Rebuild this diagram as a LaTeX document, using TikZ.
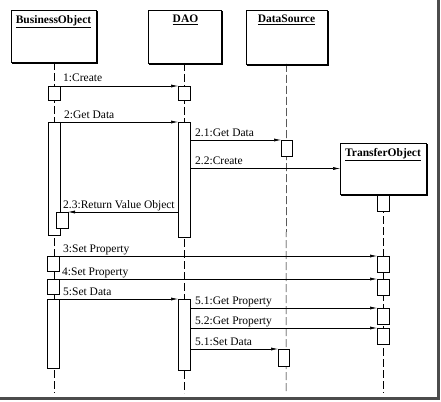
\documentclass[tikz,border=0pt]{standalone}
\usepackage{fontspec}
\setmainfont{Liberation Serif}
\usetikzlibrary{arrows.meta}
\begin{document}
\begin{tikzpicture}[x=1pt,y=-1pt,
  every node/.style={font=\fontsize{11.5}{13}\selectfont},
  objbox/.style={draw,line width=0.5pt,fill=white,inner sep=0pt,outer sep=0pt,anchor=north west},
  hdr/.style={inner sep=0pt,font=\fontsize{11.5}{13}\selectfont\bfseries,anchor=north},
  shadowline/.style={line width=1.8pt,line cap=rect},
  act/.style={draw,line width=0.5pt,fill=white,inner sep=0pt,outer sep=0pt,anchor=north west,minimum width=12pt},
  life/.style={line width=0.5pt,dash pattern=on 8pt off 3pt},
  msg/.style={line width=0.5pt,-{Latex[length=7pt,width=3pt]}},
  lbl/.style={inner sep=0pt,anchor=base west}
]
\useasboundingbox (0,0) rectangle (441,401);

% object boxes
\node[objbox,minimum width=85pt,minimum height=52pt] (bo) at (11,10) {};
\node[objbox,minimum width=73pt,minimum height=53pt] (dao) at (148,10) {};
\node[objbox,minimum width=81pt,minimum height=54pt] (ds) at (246,10) {};
\node[objbox,minimum width=86pt,minimum height=51pt] (to) at (340,143) {};
\foreach \b in {bo,dao,ds,to}{
  \draw[shadowline] ([xshift=1pt,yshift=-2pt]\b.north east) -- ([xshift=1pt,yshift=-1pt]\b.south east) -- ([xshift=2pt,yshift=-1pt]\b.south west);
}
\node[hdr] (boh) at ([yshift=-5pt]bo.north) {\underline{BusinessObject}};
\node[hdr] (daoh) at ([xshift=1pt,yshift=-5pt]dao.north) {\underline{DAO}};
\node[hdr] (dsh) at ([yshift=-5pt]ds.north) {\underline{DataSource}};
\node[hdr] (toh) at ([yshift=-5pt]to.north) {\underline{TransferObject}};

% lifeline ends
\coordinate (boe) at (54,393);
\coordinate (daoe) at (184,393);
\coordinate (dse) at (286,393);
\coordinate (toe) at (383,393);
\draw[life] ([xshift=0.5pt]bo.south) -- (boe);
\draw[life] ([xshift=-0.5pt]dao.south) -- (daoe);
\draw[life] (ds.south) -- (dse);
\draw[life] (to.south) -- (toe);

% activations
\node[act,minimum height=14pt] (bo1) at (48,86) {};
\node[act,minimum height=14pt] (dao1) at (178,86) {};
\node[act,minimum height=113pt] (bo2) at (48,122) {};
\node[act,minimum height=115pt] (dao2) at (178,122) {};
\node[act,minimum width=11pt,minimum height=16pt] (ds1) at (281,140) {};
\node[act,minimum height=16pt] (to1) at (377,195) {};
\node[act,minimum height=16pt] (bo3) at (56,212) {};
\node[act,minimum height=15pt] (bo4) at (47,256) {};
\node[act,minimum height=16pt] (to2) at (377,256) {};
\node[act,minimum height=15pt] (bo5) at (47,279) {};
\node[act,minimum height=16pt] (to3) at (377,279) {};
\node[act,minimum height=69pt] (bo6) at (47,299) {};
\node[act,minimum height=71pt] (dao3) at (178,299) {};
\node[act,minimum height=16pt] (to4) at (377,308) {};
\node[act,minimum height=16pt] (to5) at (377,328) {};
\node[act,minimum width=11pt,minimum height=17pt] (ds2) at (278,349) {};

% messages
\draw[msg] (bo1.north east) -- (dao1.north west);
\node[lbl] (m1) at (63,82) {1:Create};
\draw[msg] (bo2.north east) -- (dao2.north west);
\node[lbl] (m2) at (64,118) {2:Get Data};
\draw[msg] (dao2.east |- ds1.north) -- (ds1.north west);
\node[lbl] (m21) at (195,136) {2.1:Get Data};
\draw[msg] (dao2.east |- to.west) -- (to.west);
\node[lbl] (m22) at (195,164) {2.2:Create};
\draw[msg] (dao2.west |- bo3.north) -- (bo3.north east);
\node[lbl] (m23) at (63,208) {2.3:Return Value Object};
\draw[msg] (bo4.north east) -- (to2.north west);
\node[lbl] (m3) at (63,252) {3:Set Property};
\draw[msg] (bo5.north east) -- (to3.north west);
\node[lbl] (m4) at (62,275) {4:Set Property};
\draw[msg] (bo6.north east) -- (dao3.north west);
\node[lbl] (m5) at (63,295) {5:Set Data};
\draw[msg] (dao3.east |- to4.north) -- (to4.north west);
\node[lbl] (m51) at (195,304) {5.1:Get Property};
\draw[msg] (dao3.east |- to5.north) -- (to5.north west);
\node[lbl] (m52) at (195,324) {5.2:Get Property};
\draw[msg] (dao3.east |- ds2.north) -- (ds2.north west);
\node[lbl] (m53) at (195,345) {5.1:Set Data};

% page edge
\draw[line width=3pt,gray!60!black] (438,0) -- (438,398) -- (0,398);
\end{tikzpicture}
\end{document}
